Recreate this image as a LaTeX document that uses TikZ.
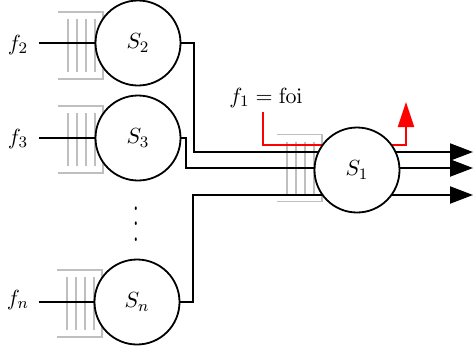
\documentclass[tikz,border=0pt]{standalone}
\usetikzlibrary{arrows.meta}
\usepackage{graphicx}
\pgfdeclarelayer{qlayer}
\pgfdeclarelayer{wires}
\pgfsetlayers{qlayer,wires,main}
\newcommand\drawqueue[2]{%
  \draw[qline] (#1-45,#2-33) -- (#1,#2-33) -- (#1,#2+34) -- (#1-45,#2+34);
  \foreach \dx in {8,17,26,35} \draw[qline] (#1-\dx,#2-26) -- (#1-\dx,#2+27);}
\newcommand\tallvdots{\vbox{\baselineskip7.6pt\lineskiplimit-20pt\hbox{\scalebox{1}[1.7]{.}}\hbox{\scalebox{1}[1.7]{.}}\hbox{\scalebox{1}[1.7]{.}}}}
\begin{document}
\begin{tikzpicture}[x=0.5pt,y=-0.5pt,
  every node/.style={font=\fontsize{11.4}{13.7}\selectfont},
  server/.style={circle,draw,line width=0.9pt,fill=white,minimum size=42.5pt,inner sep=0pt},
  wire/.style={line width=1pt},
  qline/.style={draw=black!25,line width=0.9pt},
  outarrow/.style={-{Triangle[length=11.5pt,width=8.5pt]}},
  redarrow/.style={-{Triangle[length=12.5pt,width=8pt]}},
  lbl/.style={inner sep=0pt}]
\useasboundingbox (0,0) rectangle (474,354);

% servers
\node[server] (S2) at (138,43) {$S_2$};
\node[server] (S3) at (138,138) {$S_3$};
\node[server] (Sn) at (137,302) {$S_n$};
\node[server] (S1) at (357,170) {$S_1$};

% labels
\node[lbl] (f2) at (18,45) {$f_2$};
\node[lbl] (f3) at (18,139) {$f_3$};
\node[lbl] (fn) at (18,300) {$f_n$};
\node[lbl] (f1) at (266,98) {$f_1 = \mathrm{foi}$};
\node[lbl] (dots) at (136,224) {\fontsize{10}{12}\selectfont\tallvdots};

% coordinates
\coordinate (i2) at (39,43);
\coordinate (i3) at (39,138);
\coordinate (in) at (39,302);
\coordinate (o1) at (473,152);
\coordinate (o2) at (473,168);
\coordinate (o3) at (473,195);
\coordinate (r0) at (263,112);
\coordinate (r1) at (406,102);

% queues
\begin{pgfonlayer}{qlayer}
  \drawqueue{103}{45}
  \drawqueue{103}{139}
  \drawqueue{102}{303}
  \drawqueue{322}{167.5}
\end{pgfonlayer}

% wires
\begin{pgfonlayer}{wires}
  \draw[wire] (i2) -- (S2.west);
  \draw[wire] (i3) -- (S3.west);
  \draw[wire] (in) -- (Sn.west);
  \draw[wire,outarrow] (S2.east) -- ++(13,0) |- (o1);
  \draw[wire,outarrow] (S3.east) -- ++(5,0) |- (o2);
  \draw[wire,outarrow] (Sn.east) -- ++(13,0) |- (o3);
  \draw[wire,red,redarrow] (r0) |- (406,145) -- (r1);
\end{pgfonlayer}
\end{tikzpicture}
\end{document}
